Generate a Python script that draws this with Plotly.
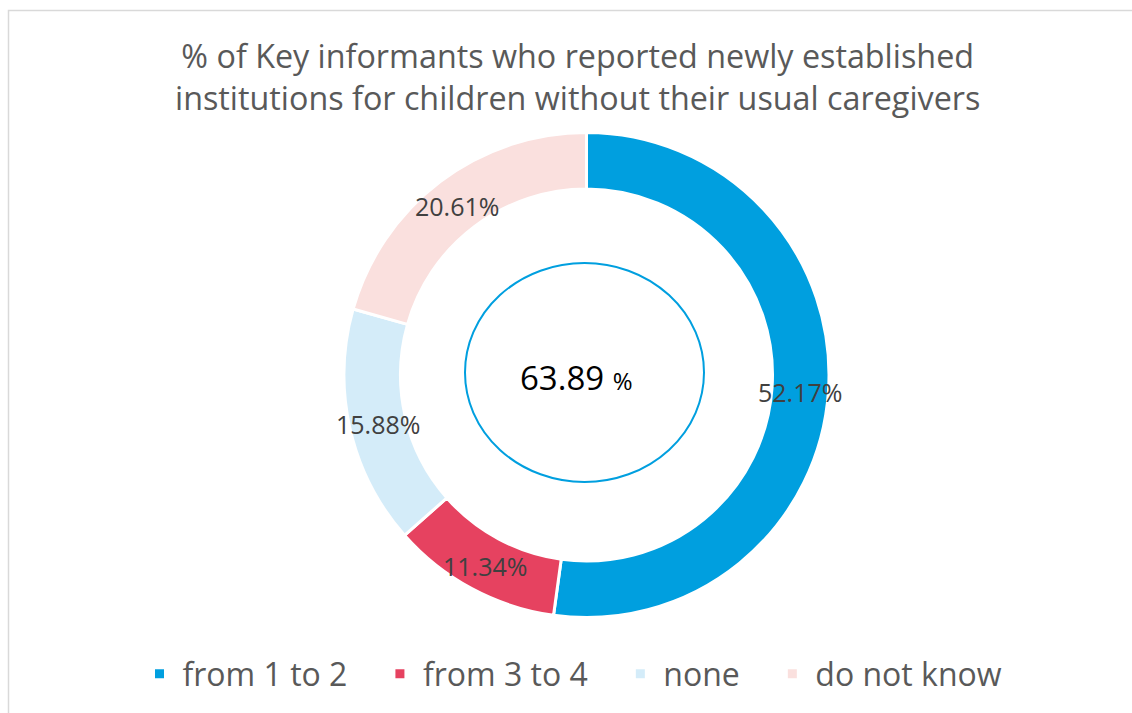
import math
import plotly.graph_objects as go

categories = ["from 1 to 2", "from 3 to 4", "none", "do not know"]
values = [52.17, 11.34, 15.88, 20.61]
colors = ["#009FDF", "#E64260", "#D4ECF9", "#FAE0DE"]
center_value = 63.89
title_lines = ["% of Key informants who reported newly established",
               "institutions for children without their usual caregivers"]

W, H = 1132, 713
FONT = "Open Sans"

def px(x):
    return x / W

def py(y):
    return 1 - y / H

cx, cy, R, R_in = 586.5, 375, 242.5, 186
legend_labels = [c + "\u2002\u2009\u200a" for c in categories]

fig = go.Figure(go.Pie(
    labels=legend_labels,
    values=values,
    sort=False,
    direction="clockwise",
    rotation=0,
    hole=R_in / R,
    marker=dict(colors=colors, line=dict(color="white", width=3)),
    textinfo="none",
    hovertemplate="%{label}: %{value:.2f}%<extra></extra>",
    domain=dict(x=[px(cx - R), px(cx + R)], y=[py(cy + R), py(cy - R)]),
))

# data labels at the middle of the ring, angle derived from the values
annotations = []
total = sum(values)
cum = 0.0
r_mid = (R + R_in) / 2
for v in values:
    mid = (cum + v / 2) / total
    cum += v
    th = 2 * math.pi * mid
    x = cx + r_mid * math.sin(th)
    y = cy - r_mid * math.cos(th) + 2
    annotations.append(dict(text=f"{v:.2f}%", x=px(x), y=py(y),
                            xref="paper", yref="paper", showarrow=False,
                            xanchor="center", yanchor="middle",
                            font=dict(family=FONT, size=25, color="#404040")))

annotations += [
    dict(text="<br>".join(title_lines), x=px(577), y=py(76),
         xref="paper", yref="paper", showarrow=False,
         xanchor="center", yanchor="middle",
         font=dict(family=FONT, size=32.3, color="#595959")),
    dict(text=f"{center_value:.2f} <span style='font-size:24px'>%</span>",
         x=px(576), y=py(377), xref="paper", yref="paper",
         showarrow=False, xanchor="center", yanchor="middle",
         font=dict(family=FONT, size=33, color="#000000")),
]

fig.update_layout(
    width=W, height=H,
    margin=dict(l=0, r=0, t=0, b=0),
    paper_bgcolor="white",
    plot_bgcolor="white",
    font=dict(family=FONT, color="#595959"),
    showlegend=True,
    legend=dict(
        orientation="h",
        x=px(584), xanchor="center",
        y=py(674), yanchor="middle",
        font=dict(family=FONT, size=32, color="#595959"),
        itemwidth=36,
        traceorder="normal",
    ),
    annotations=annotations,
    shapes=[
        dict(type="circle", xref="paper", yref="paper",
             x0=px(465), x1=px(704), y0=py(482), y1=py(263),
             line=dict(color="#009FDF", width=2)),
        dict(type="rect", xref="paper", yref="paper",
             x0=px(8.5), x1=1.05, y0=-0.05, y1=py(10.5),
             line=dict(color="#D9D9D9", width=1.5)),
    ],
)

fig.write_html("out.html", config={"displayModeBar": False},
               post_script="document.body.style.margin='0';")
